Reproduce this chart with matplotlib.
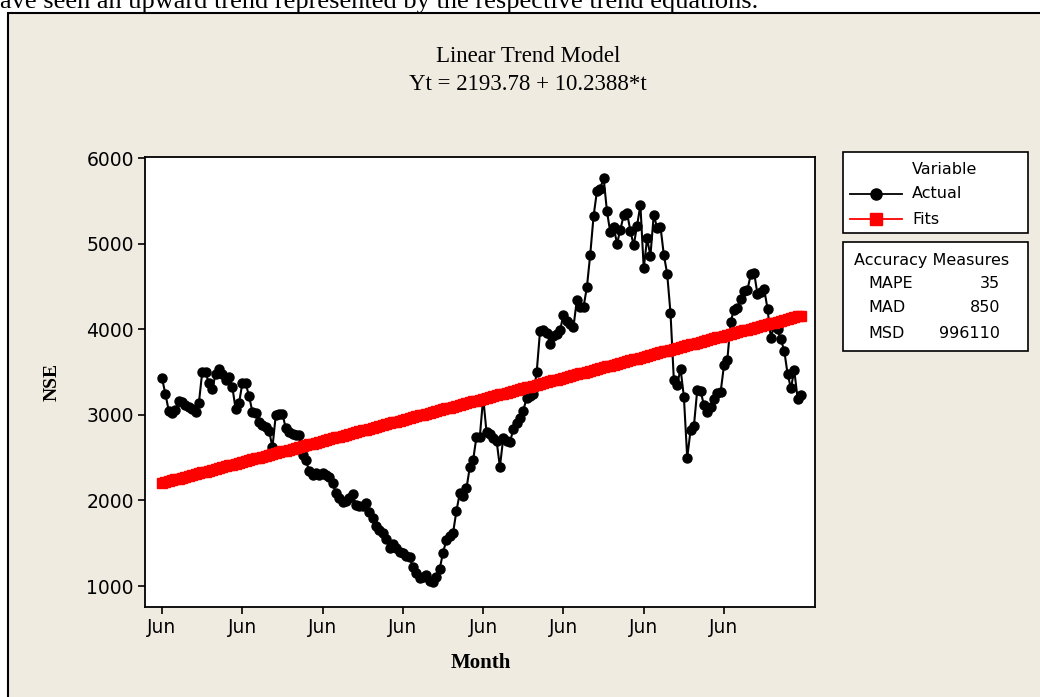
import numpy as np
import matplotlib.pyplot as plt
from matplotlib.patches import Rectangle
from matplotlib.lines import Line2D

W, H = 1040, 697

# NSE index, one row per year (Jun..May)
actual = [
    3426, 3243, 3048, 3025, 3056, 3161, 3153, 3115, 3088, 3064, 3037, 3135,
    3497, 3497, 3368, 3298, 3477, 3532, 3473, 3406, 3445, 3328, 3064, 3135,
    3368, 3368, 3220, 3037, 3018, 2920, 2881, 2861, 2814, 2620, 2998, 3009,
    3009, 2842, 2800, 2780, 2770, 2770, 2530, 2470, 2340, 2300, 2320, 2300,
    2320, 2297, 2270, 2200, 2083, 2025, 1985, 1990, 2030, 2070, 1950, 1940,
    1935, 1975, 1868, 1800, 1700, 1660, 1620, 1545, 1440, 1490, 1450, 1400,
    1380, 1350, 1340, 1220, 1150, 1090, 1110, 1130, 1060, 1050, 1100, 1200,
    1390, 1537, 1580, 1623, 1876, 2083, 2050, 2141, 2387, 2472, 2745, 2745,
    3200, 2800, 2780, 2725, 2700, 2390, 2730, 2700, 2680, 2830, 2900, 2960,
    3050, 3200, 3220, 3240, 3500, 3980, 3990, 3960, 3830, 3920, 3950, 3990,
    4170, 4100, 4060, 4030, 4340, 4260, 4260, 4490, 4870, 5320, 5610, 5640,
    5770, 5380, 5130, 5200, 5000, 5160, 5330, 5360, 5150, 4980, 5210, 5450,
    4710, 5060, 4860, 5340, 5180, 5200, 4870, 4650, 4190, 3410, 3350, 3540,
    3210, 2500, 2820, 2870, 3290, 3280, 3110, 3030, 3090, 3190, 3250, 3270,
    3582, 3645, 4090, 4230, 4250, 4350, 4450, 4460, 4640, 4660, 4410, 4430,
    4470, 4240, 3900, 4040, 4000, 3880, 3750, 3480, 3310, 3520, 3190, 3230,
]

# trend equation shown in the title
intercept = 2193.78
slope = 10.2388

tick_pos = [1, 25, 49, 73, 97, 121, 145, 169]
tick_lab = ["Jun"] * 8
y_ticks = [1000, 2000, 3000, 4000, 5000, 6000]

measures = ["MAPE", "MAD", "MSD"]
measure_vals = ["35", "850", "996110"]

t = np.arange(1, len(actual) + 1)
fits = intercept + slope * t


def fx(x):
    return x / W


def fy(y):
    return 1 - y / H


fig = plt.figure(figsize=(10.4, 6.97), dpi=100)
fig.patch.set_facecolor("white")

# beige minitab panel, kept behind the axes
fig.patches.append(Rectangle((fx(8), -0.02), 1.0, fy(13) + 0.02, transform=fig.transFigure,
                             facecolor="#efebe1", edgecolor="black", lw=1.5, zorder=-5))

# cut-off sentence above the graph
fig.text(fx(0), fy(8), "ave seen an upward trend represented by the respective trend equations.",
         family="Liberation Serif", fontsize=19, va="baseline", ha="left")

ax = fig.add_axes([fx(145), fy(607), fx(815) - fx(145), fy(157) - fy(607)])
ax.set_zorder(2)
ax.set_facecolor("white")
ax.plot(t, actual, color="black", marker="o", ms=6.5, lw=1.5, zorder=2)
ax.plot(t, fits, color="red", marker="s", ms=7.5, lw=1, zorder=3)

ax.set_xlim(-4.1, 196.2)
ax.set_ylim(755, 6012)
ax.set_xticks(tick_pos)
ax.set_xticklabels(tick_lab)
ax.set_yticks(y_ticks)
for s in ax.spines.values():
    s.set_linewidth(1.3)
ax.tick_params(direction="out", length=5, width=1.2, labelsize=13.5, pad=3)

# titles and axis labels
fig.text(fx(528), fy(56), "Linear Trend Model", family="Liberation Serif", fontsize=16.5,
         ha="center", va="center")
fig.text(fx(528), fy(84), "Yt = 2193.78 + 10.2388*t", family="Liberation Serif", fontsize=16.5,
         ha="center", va="center")
fig.text(fx(52), fy(382), "NSE", family="Liberation Serif", fontsize=14, weight="bold",
         rotation=90, ha="center", va="center")
fig.text(fx(481), fy(663), "Month", family="Liberation Serif", fontsize=15, weight="bold",
         ha="center", va="center")

# legend box
fig.patches.append(Rectangle((fx(843), fy(233)), fx(1028) - fx(843), fy(152) - fy(233),
                             transform=fig.transFigure, facecolor="white", edgecolor="black", lw=1.2))
fig.text(fx(945), fy(169), "Variable", fontsize=11.5, ha="center", va="center")
fig.lines.append(Line2D([fx(850), fx(902)], [fy(194), fy(194)], color="black", lw=1.3,
                        transform=fig.transFigure))
fig.lines.append(Line2D([fx(876)], [fy(194)], color="black", marker="o", ms=8,
                        transform=fig.transFigure))
fig.lines.append(Line2D([fx(850), fx(902)], [fy(219), fy(219)], color="red", lw=1.3,
                        transform=fig.transFigure))
fig.lines.append(Line2D([fx(876)], [fy(219)], color="red", marker="s", ms=8,
                        transform=fig.transFigure))
fig.text(fx(912), fy(194), "Actual", fontsize=11.5, ha="left", va="center")
fig.text(fx(912), fy(219), "Fits", fontsize=11.5, ha="left", va="center")

# accuracy measures box
fig.patches.append(Rectangle((fx(843), fy(351)), fx(1028) - fx(843), fy(242) - fy(351),
                             transform=fig.transFigure, facecolor="white", edgecolor="black", lw=1.2))
fig.text(fx(854), fy(260), "Accuracy Measures", fontsize=11.5, ha="left", va="center")
for i, (m, v) in enumerate(zip(measures, measure_vals)):
    yy = 283 + i * 25
    fig.text(fx(868), fy(yy), m, fontsize=11.5, ha="left", va="center")
    fig.text(fx(1000), fy(yy), v, fontsize=11.5, ha="right", va="center")

fig.savefig("out.png", dpi=100)
